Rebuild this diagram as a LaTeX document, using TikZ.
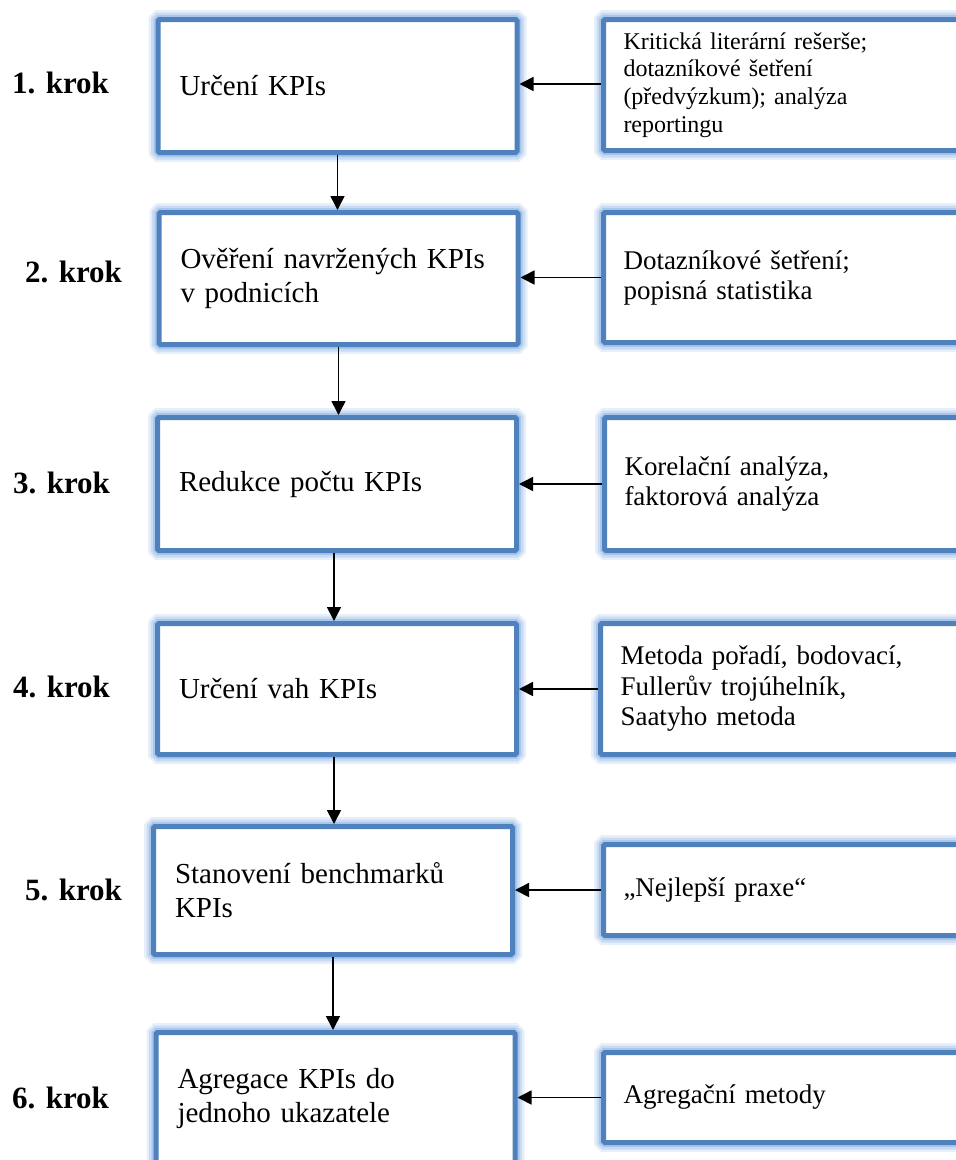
\documentclass[tikz,border=0pt]{standalone}
\usepackage{fontspec}
\setmainfont{Liberation Serif}
\usetikzlibrary{arrows.meta}
\definecolor{boxblue}{HTML}{4F81BD}
\definecolor{glowA}{HTML}{E6EFFA}
\definecolor{glowB}{HTML}{C9DCF3}
\definecolor{glowC}{HTML}{A9C7EC}
\tikzset{
  glowbox/.style={draw=boxblue, line width=5pt, fill=white, rounded corners=1.5pt,
    preaction={draw=glowA, line width=19pt},
    preaction={draw=glowB, line width=14pt},
    preaction={draw=glowC, line width=9pt},
    inner ysep=0pt},
  lbox/.style={glowbox, minimum width=359pt, text width=316pt, inner xsep=21.5pt, align=left,
    font=\fontsize{29}{34}\selectfont},
  rbox/.style={glowbox, text width=360pt, inner xsep=20pt, align=left,
    font=\fontsize{27}{30}\selectfont},
  steplabel/.style={anchor=base west, inner sep=0pt, font=\fontsize{31}{36}\selectfont\bfseries},
  arr/.style={draw=black, line width=1.6pt, -{Triangle[length=14pt,width=14pt]}}
}
\begin{document}
\begin{tikzpicture}[x=1pt,y=-1pt]
\useasboundingbox (0,0) rectangle (956,1160);
\clip (0,0) rectangle (956,1160);
% left boxes
\node[lbox, minimum height=133pt] (L1) at (337.5,86) {Určení KPIs};
\node[lbox, minimum height=132pt] (L2) at (338.5,278.5) {\makebox[315pt][s]{Ověření navržených KPIs}\\v podnicích};
\node[lbox, minimum height=133pt] (L3) at (337,484) {Redukce počtu KPIs};
\node[lbox, minimum height=131pt] (L4) at (337,689) {Určení vah KPIs};
\node[lbox, minimum height=128pt] (L5) at (333,890.5) {Stanovení benchmarků\\KPIs};
\node[lbox, minimum height=133pt] (L6) at (335.5,1099) {Agregace KPIs do\\jednoho ukazatele};
% right boxes
\node[rbox, minimum height=131pt, font=\fontsize{24}{27.6}\selectfont] (R1) at (803.5,85) {Kritická literární rešerše;\\dotazníkové šetření\\(předvýzkum); analýza\\reportingu};
\node[rbox, minimum height=130pt] (R2) at (803.5,277.5) {Dotazníkové šetření;\\popisná statistika};
\node[rbox, minimum height=133pt] (R3) at (804.5,484) {Korelační analýza,\\faktorová analýza};
\node[rbox, minimum height=131pt, font=\fontsize{27}{30.5}\selectfont] (R4) at (800.5,689) {Metoda pořadí, bodovací,\\Fullerův trojúhelník,\\Saatyho metoda};
\node[rbox, minimum height=91pt] (R5) at (803.5,890) {„Nejlepší praxe“};
\node[rbox, minimum height=90pt] (R6) at (803.5,1097.5) {Agregační metody};
% step labels
\node[steplabel] (K1) at (12,93) {1. krok};
\node[steplabel] (K2) at (25,282) {2. krok};
\node[steplabel] (K3) at (13,493) {3. krok};
\node[steplabel] (K4) at (13,697) {4. krok};
\node[steplabel] (K5) at (25,900) {5. krok};
\node[steplabel] (K6) at (12,1108) {6. krok};
% vertical arrows
\draw[arr] (L1.south) -- (L1.south |- L2.north);
\draw[arr] (L2.south) -- (L2.south |- L3.north);
\draw[arr] ([xshift=-3pt]L3.south) -- ([xshift=-3pt]L3.south |- L4.north);
\draw[arr] ([xshift=-3pt]L4.south) -- ([xshift=-3pt]L4.south |- L5.north);
\draw[arr] (L5.south) -- (L5.south |- L6.north);
% horizontal arrows
\draw[arr] ([yshift=1pt]R1.west) -- ([yshift=1pt]R1.west -| L1.east);
\draw[arr] (R2.west) -- (R2.west -| L2.east);
\draw[arr] (R3.west) -- (R3.west -| L3.east);
\draw[arr] (R4.west) -- (R4.west -| L4.east);
\draw[arr] (R5.west) -- (R5.west -| L5.east);
\draw[arr] (R6.west) -- (R6.west -| L6.east);
\end{tikzpicture}
\end{document}
